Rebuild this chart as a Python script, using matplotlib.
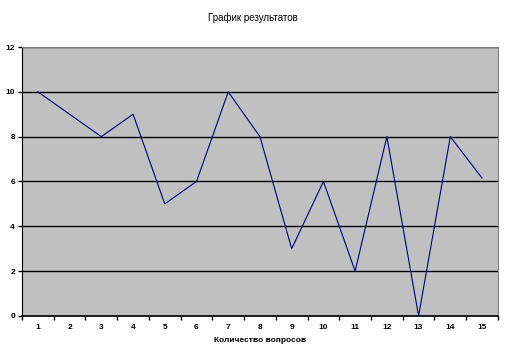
import numpy as np
import matplotlib
matplotlib.use("Agg")
import matplotlib.pyplot as plt

plt.rcParams['font.family'] = ['Liberation Sans', 'DejaVu Sans']

questions = [str(i) for i in range(1, 16)]
results = [10, 9, 8, 9, 5, 6, 10, 8, 3, 6, 2, 8, 0, 8, 6.15]
y_ticks = [0, 2, 4, 6, 8, 10, 12]

fig = plt.figure(figsize=(5.06, 3.59), dpi=100)
ax = fig.add_axes([0.0435, 0.12, 0.9405, 0.749])
ax.set_facecolor('#C0C0C0')

x = np.arange(len(questions))
ax.plot(x, results, color='#000080', linewidth=0.8, zorder=3)

ax.set_xlim(-0.5, len(questions) - 0.5)
ax.set_ylim(0, 12)
ax.set_yticks(y_ticks)
ax.set_yticklabels([str(v) for v in y_ticks], fontsize=6)
ax.yaxis.grid(True, color='black', linewidth=1.0)
ax.set_axisbelow(True)

# category axis: ticks between categories, labels centred
ax.set_xticks(np.arange(-0.5, len(questions), 1.0))
ax.set_xticklabels([])
ax.set_xticks(x, minor=True)
ax.set_xticklabels(questions, minor=True, fontsize=6, fontweight='bold')
ax.tick_params(axis='x', which='minor', length=0, pad=6)
ax.tick_params(axis='x', which='major', length=3, direction='out', width=1)
ax.tick_params(axis='y', length=3, direction='out', width=1, pad=2)
for lbl in ax.get_yticklabels():
    lbl.set_fontweight('bold')

ax.spines['top'].set_color('#808080')
ax.spines['right'].set_color('#808080')
ax.spines['left'].set_color('black')
ax.spines['bottom'].set_color('black')
ax.spines['bottom'].set_linewidth(1.2)

ax.set_xlabel('Количество вопросов', fontsize=6, fontweight='bold', labelpad=4)
fig.text(0.5, 0.95, 'График результатов', ha='center', va='center', fontsize=7)

fig.savefig('out.png', dpi=100)
